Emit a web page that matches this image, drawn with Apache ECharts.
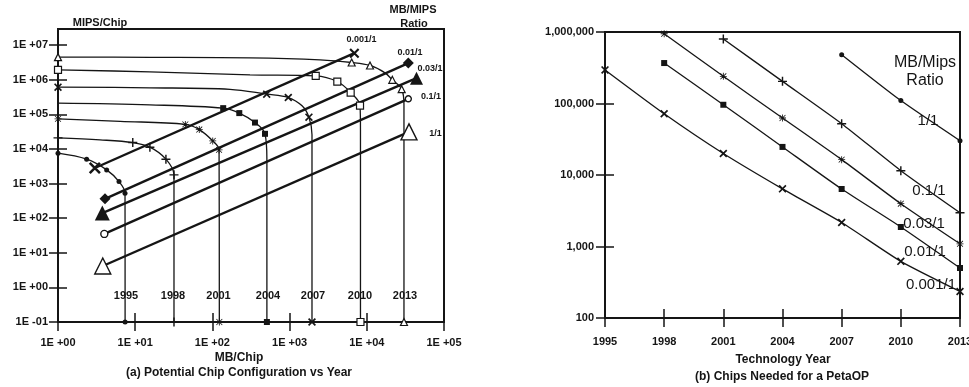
<!DOCTYPE html>
<html>
<head>
<meta charset="utf-8">
<script src="https://cdn.jsdelivr.net/npm/echarts@6/dist/echarts.min.js"></script>
<style>
  html, body { margin: 0; padding: 0; background: #fff; }
  #chart { width: 969px; height: 387px; }
</style>
</head>
<body>
<div id="chart"></div>
<script>
// ---------- (a) Potential chip configuration: [MB/chip, MIPS/chip] ----------
const leftXTickLabels = ['1E +00', '1E +01', '1E +02', '1E +03', '1E +04', '1E +05'];
const leftYTickLabels = ['1E -01', '1E +00', '1E +01', '1E +02', '1E +03', '1E +04', '1E +05', '1E +06', '1E +07'];
const yearLabels = ['1995', '1998', '2001', '2004', '2007', '2010', '2013'];

const curve1995 = [[1, 7500], [2.35, 5040], [4.27, 2470], [6.17, 1135], [7.38, 525], [7.4, 0.1]];
const marks1995 = [[1, 7500], [2.35, 5040], [4.27, 2470], [6.17, 1135], [7.38, 525], [7.4, 0.1]];

const curve1998 = [[1, 20800], [3.5, 18200], [9.3, 15200], [15.5, 11200], [25, 5040], [31.8, 1775], [31.8, 0.1]];
const marks1998 = [[1, 20800], [9.3, 15200], [15.5, 11200], [25, 5040], [31.8, 1775], [31.8, 0.1]];

const curve2001 = [[1, 73600], [6.4, 62400], [44.6, 51000], [67.6, 36100], [101, 17000], [122, 9350], [123, 0.1]];
const marks2001 = [[1, 73600], [44.6, 51000], [67.6, 36100], [101, 17000], [122, 9350], [123, 0.1]];

const curve2004 = [[1, 209000], [15.5, 187000], [138, 150000], [223, 108000], [356, 57500], [480, 27200], [508, 5000], [508, 0.1]];
const marks2004 = [[138, 150000], [223, 108000], [356, 57500], [480, 27200], [508, 0.1]];

const curve2007 = [[1, 607000], [15.5, 580000], [169, 525000], [505, 381000], [962, 304000], [1450, 175000], [1780, 82400], [1950, 25400], [1950, 0.1]];
const marks2007 = [[1, 607000], [505, 381000], [962, 304000], [1780, 82400], [1950, 0.1]];

const curve2010 = [[1, 1920000], [15.5, 1680000], [307, 1380000], [2180, 1290000], [4150, 881000], [6180, 424000], [8170, 178000], [8280, 35400], [8280, 0.1]];
const marks2010 = [[1, 1920000], [2180, 1290000], [4150, 881000], [6180, 424000], [8170, 178000], [8280, 0.1]];

const curve2013 = [[1, 4470000], [15.5, 4420000], [307, 4270000], [2480, 3730000], [6370, 3120000], [11000, 2560000], [17200, 1570000], [21400, 986000], [28300, 531000], [30300, 187000], [30300, 0.1]];
const marks2013 = [[1, 4470000], [6370, 3120000], [11000, 2560000], [21400, 986000], [28300, 531000], [30300, 0.1]];

// MB/MIPS ratio lines (1995 end, 2013 end)
const ratio0001 = [[3.0, 2800], [6900, 5800000]];
const ratio001 = [[4.06, 360], [34500, 3000000]];
const ratio003 = [[3.75, 140], [44000, 1100000]];
const ratio01 = [[3.98, 35], [34500, 279000]];
const ratio1 = [[3.8, 4.15], [35200, 31000]];

// ---------- (b) Chips needed for a PetaOP ----------
const techYears = [1995, 1998, 2001, 2004, 2007, 2010, 2013];
const rightYTickLabels = ['100', '1,000', '10,000', '100,000', '1,000,000'];
const chips0001 = [295000, 72000, 20000, 6400, 2170, 620, 235];
const chips001 = [null, 368000, 96000, 24700, 6370, 1875, 500];
const chips003 = [null, 945000, 240000, 62700, 16400, 3970, 1090];
const chips01 = [null, null, 800000, 204000, 52200, 11500, 2970];
const chips1 = [null, null, null, null, 482000, 110000, 30200];

const INK = '#151515';
const FONT = '"Liberation Sans", Arial, sans-serif';
const SYM_X = 'path://M1.5,0L10,8.5L8.5,10L0,1.5Z M8.5,0L10,1.5L1.5,10L0,8.5Z';
const SYM_PLUS = 'path://M4.2,0H5.8V4.2H10V5.8H5.8V10H4.2V5.8H0V4.2H4.2Z';
const SYM_STAR = 'path://M4.4,0H5.6V4.4H10V5.6H5.6V10H4.4V5.6H0V4.4H4.4Z M1.2,0.4L9.6,8.8L8.8,9.6L0.4,1.2Z M8.8,0.4L9.6,1.2L1.2,9.6L0.4,8.8Z';

const exp10 = v => Math.round(Math.log10(v));

const chart = echarts.init(document.getElementById('chart'));

const tickAxis = (base, inside) => Object.assign({}, base, {
  axisLine: { show: false },
  splitLine: { show: false },
  axisTick: { show: true, inside: inside, length: 9, lineStyle: { color: INK, width: 1.5 } },
});

const labelStyle = { fontFamily: FONT, fontWeight: 'bold', fontSize: 11, color: INK };

const leftX = { type: 'log', gridIndex: 0, position: 'bottom', min: 1, max: 100000 };
const leftY = { type: 'log', gridIndex: 0, position: 'left', min: 0.1, max: 10000000 };
const rightX = { type: 'value', gridIndex: 2, position: 'bottom', min: 1995, max: 2013, interval: 3 };
const rightY = { type: 'log', gridIndex: 2, position: 'left', min: 100, max: 1000000 };

const series = [];

function yearCurve(curve, marks, symbol, size, fill) {
  series.push({
    type: 'line', xAxisIndex: 0, yAxisIndex: 0, data: curve, smooth: 0.35,
    symbol: 'none', clip: false, silent: true,
    lineStyle: { color: INK, width: 1.3 }, z: 2,
  });
  series.push({
    type: 'scatter', xAxisIndex: 0, yAxisIndex: 0, data: marks, symbol: symbol,
    symbolSize: size, clip: false, silent: true,
    itemStyle: { color: fill, borderColor: INK, borderWidth: fill === '#fff' ? 1.2 : 0, opacity: 1 }, z: 4,
  });
}

function ratioLine(data, symbol, sizes, fill) {
  series.push({
    type: 'line', xAxisIndex: 0, yAxisIndex: 0, data: data, symbol: 'none',
    clip: false, silent: true, lineStyle: { color: INK, width: 2.4 }, z: 3,
  });
  series.push({
    type: 'scatter', xAxisIndex: 0, yAxisIndex: 0, data: data, symbol: symbol,
    symbolSize: (v, p) => sizes[p.dataIndex], clip: false, silent: true,
    itemStyle: { color: fill, borderColor: INK, borderWidth: fill === '#fff' ? 1.4 : 0, opacity: 1 }, z: 5,
  });
}

function chipLine(values, symbol, size) {
  const data = techYears.map((y, i) => values[i] == null ? null : [y, values[i]]).filter(Boolean);
  series.push({
    type: 'line', xAxisIndex: 3, yAxisIndex: 3, data: data, smooth: 0.2,
    symbol: symbol, symbolSize: size, showAllSymbol: true, clip: false, silent: true,
    lineStyle: { color: INK, width: 1.3 },
    itemStyle: { color: INK, borderWidth: 0 }, z: 3,
  });
}

yearCurve(curve1995, marks1995, 'circle', 5, INK);
yearCurve(curve1998, marks1998, SYM_PLUS, 9, INK);
yearCurve(curve2001, marks2001, SYM_STAR, 7, INK);
yearCurve(curve2004, marks2004, 'rect', 6, INK);
yearCurve(curve2007, marks2007, SYM_X, 8, INK);
yearCurve(curve2010, marks2010, 'rect', 7, '#fff');
yearCurve(curve2013, marks2013, 'triangle', 7, '#fff');

ratioLine(ratio0001, SYM_X, [12, 10], INK);
ratioLine(ratio001, 'diamond', [11, 11], INK);
ratioLine(ratio003, 'triangle', [15, 13], INK);
ratioLine(ratio01, 'circle', [7, 6], '#fff');
ratioLine(ratio1, 'triangle', [16, 16], '#fff');

chipLine(chips0001, SYM_X, 8);
chipLine(chips001, 'rect', 6);
chipLine(chips003, SYM_STAR, 7);
chipLine(chips01, SYM_PLUS, 9);
chipLine(chips1, 'circle', 5);

const text = (str, x, y, size, weight) => ({
  type: 'text', x: x, y: y, silent: true,
  style: {
    text: str, fill: INK, font: (weight || 'bold') + ' ' + size + 'px ' + FONT,
    textAlign: 'center', textVerticalAlign: 'middle', align: 'center', verticalAlign: 'middle',
  },
});

const yearX = [126, 173, 218.5, 268, 313, 360, 405];

chart.setOption({
  animation: false,
  backgroundColor: '#fff',
  grid: [
    { left: 58, top: 45, width: 386, height: 277, outerBoundsMode: 'none' },
    { left: 58, top: 29, width: 386, height: 293, outerBoundsMode: 'none', show: true, borderColor: INK, borderWidth: 2, backgroundColor: 'transparent' },
    { left: 605, top: 32, width: 355, height: 286, outerBoundsMode: 'none', show: true, borderColor: INK, borderWidth: 2, backgroundColor: 'transparent' },
  ],
  xAxis: [
    Object.assign(tickAxis(leftX, false), {
      axisLabel: Object.assign({ margin: 15, formatter: v => leftXTickLabels[exp10(v)] }, labelStyle),
    }),
    Object.assign(tickAxis(leftX, true), { axisLabel: { show: false } }),
    { type: 'value', gridIndex: 1, show: false, min: 0, max: 1 },
    Object.assign(tickAxis(rightX, false), {
      axisLabel: Object.assign({ margin: 18, formatter: v => String(v) }, labelStyle),
    }),
    Object.assign(tickAxis(rightX, true), { axisLabel: { show: false } }),
  ],
  yAxis: [
    Object.assign(tickAxis(leftY, false), {
      axisLabel: Object.assign({ margin: 10, formatter: v => leftYTickLabels[exp10(v) + 1] }, labelStyle),
    }),
    Object.assign(tickAxis(leftY, true), { axisLabel: { show: false } }),
    { type: 'value', gridIndex: 1, show: false, min: 0, max: 1 },
    Object.assign(tickAxis(rightY, false), {
      axisLabel: Object.assign({ margin: 11, formatter: v => rightYTickLabels[exp10(v) - 2] }, labelStyle),
    }),
    Object.assign(tickAxis(rightY, true), { axisLabel: { show: false } }),
  ],
  series: series,
  graphic: [
    text('MIPS/Chip', 100, 22.5, 11),
    text('MB/MIPS', 413, 10, 11),
    text('Ratio', 414, 23.5, 11),
    text('0.001/1', 361.5, 39.3, 9),
    text('0.01/1', 410, 52.7, 9),
    text('0.03/1', 430, 69, 9),
    text('0.1/1', 431, 96.7, 9),
    text('1/1', 435.5, 133.3, 9),
  ].concat(yearLabels.map((y, i) => text(y, yearX[i], 296, 11)), [
    text('MB/Chip', 239, 358, 12),
    text('(a) Potential Chip Configuration vs Year', 239, 373, 12),
    text('MB/Mips', 925, 62.7, 16, 'normal'),
    text('Ratio', 925, 81, 16, 'normal'),
    text('1/1', 928, 120.7, 15, 'normal'),
    text('0.1/1', 929, 191, 15, 'normal'),
    text('0.03/1', 924, 224, 15, 'normal'),
    text('0.01/1', 925, 251.7, 15, 'normal'),
    text('0.001/1', 931, 285, 15, 'normal'),
    text('Technology Year', 783, 360, 12),
    text('(b) Chips Needed for a PetaOP', 782, 377, 12),
  ]),
});
</script>
</body>
</html>
